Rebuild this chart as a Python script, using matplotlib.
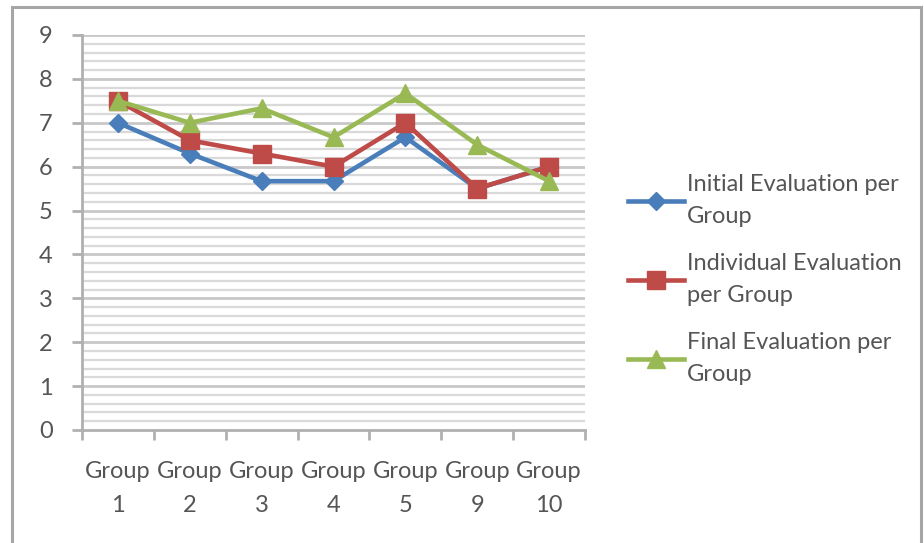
import matplotlib
matplotlib.use("Agg")
import matplotlib.pyplot as plt
from matplotlib.patches import Rectangle
import numpy as np

categories = ["Group\n1", "Group\n2", "Group\n3", "Group\n4", "Group\n5", "Group\n9", "Group\n10"]
initial = [7.0, 6.3, 5.67, 5.67, 6.67, 5.5, 6.0]
individual = [7.5, 6.6, 6.3, 6.0, 7.0, 5.5, 6.0]
final = [7.5, 7.0, 7.33, 6.67, 7.67, 6.5, 5.67]
series_names = ["Initial Evaluation per\nGroup", "Individual Evaluation\nper Group", "Final Evaluation per\nGroup"]

plt.rcParams['font.family'] = ['Lato', 'DejaVu Sans']
W, H = 924, 543
fig = plt.figure(figsize=(W/100, H/100), dpi=100)
fig.patch.set_facecolor('white')

# outer chart border
fig.add_artist(Rectangle((12/W, -0.05), (921-12)/W, (H-7)/H + 0.05, transform=fig.transFigure,
                         fill=False, edgecolor='#a6a6a6', linewidth=2.2))

ax = fig.add_axes([82/W, (H-430)/H, 503/W, 395/H])
x = np.arange(len(categories))
ax.set_xlim(-0.5, len(categories)-0.5)
ax.set_ylim(0, 9)

# gridlines
for v in np.arange(0.2, 9.01, 0.2):
    major = abs(v - round(v)) < 1e-6
    ax.axhline(v, color='#c8c8c8' if major else '#d9d9d9', linewidth=2.0 if major else 1.6, zorder=0)

ax.plot(x, initial, color='#4a7ebb', linewidth=3.3, marker='D', markersize=9, label=series_names[0], zorder=3)
ax.plot(x, individual, color='#be4b48', linewidth=3.3, marker='s', markersize=13, label=series_names[1], zorder=4)
ax.plot(x, final, color='#98b954', linewidth=3.3, marker='^', markersize=13, label=series_names[2], zorder=5)

for s in ['top', 'right']:
    ax.spines[s].set_visible(False)
for s in ['left', 'bottom']:
    ax.spines[s].set_color('#b0b0b0')
    ax.spines[s].set_linewidth(2)

ax.set_yticks(range(0, 10))
ax.tick_params(axis='y', length=7, width=2, color='#b0b0b0', labelsize=17, labelcolor='#555555', pad=14)
ax.set_xticks(x)
ax.set_xticklabels(categories, linespacing=1.8)
ax.set_xticks(np.arange(-0.5, len(categories), 1), minor=True)
ax.tick_params(axis='x', which='major', length=0, labelsize=17, labelcolor='#555555', pad=22)
ax.tick_params(axis='x', which='minor', length=7, width=2, color='#b0b0b0')

leg = fig.legend(loc='upper left', bbox_to_anchor=(607/W, 1 - 153/H), frameon=False,
                 fontsize=17, labelcolor='#555555', handlelength=2.35, handletextpad=0.15,
                 labelspacing=1.12, markerscale=1.0)
for t in leg.get_texts():
    t.set_linespacing(1.62)

fig.savefig("out.png", dpi=100, facecolor='white')
